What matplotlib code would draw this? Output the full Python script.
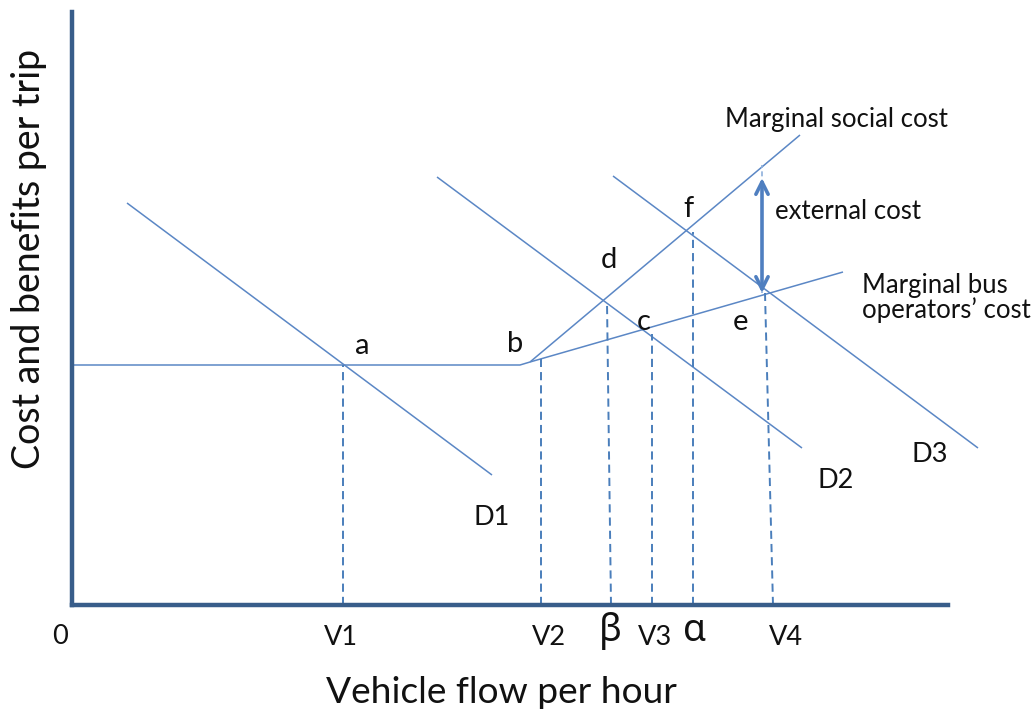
import matplotlib
matplotlib.use("Agg")
import matplotlib.pyplot as plt

# ---------------- data (diagram units: origin at axes corner) ----------------
# supply side
mc_flat_x = [0, 448, 458]
mc_flat_y = [240, 240, 243]
msc_x = [458, 728]            # marginal social cost
msc_y = [243, 470]
mboc_x = [458, 771]           # marginal bus operators' cost
mboc_y = [243, 333]
# demand curves
d1_x = [55, 420];  d1_y = [402, 130]
d2_x = [365, 730]; d2_y = [428, 157]
d3_x = [541, 906]; d3_y = [429, 157]
# dashed guide lines: bottom x, top x, top y
guide_bottom_x = [271, 469, 539, 580, 621, 701]
guide_top_x    = [271, 469, 535, 580, 621, 693]
guide_top_y    = [240, 246, 303, 271, 373, 312]
# external cost arrow
ext_x = 690
ext_low, ext_high = 312, 427
ext_line_top = 440
# point labels
pt_labels = ["a", "b", "c", "d", "e", "f"]
pt_x = [290, 443, 572, 537, 668, 616]
pt_y = [251, 253, 275, 337, 275, 388]
# curve labels
curve_labels = ["D1", "D2", "D3"]
curve_lx = [420, 764, 858]
curve_ly = [80, 117, 143]
# x tick labels
tick_labels = ["V1", "V2", "V3", "V4"]
tick_x = [269, 477, 583, 714]
greek_labels = ["β", "α"]
greek_x = [538, 623]

LINE = "#5b87c5"
DASH = "#4A7EBB"
AXIS = "#385D8A"
TXT = "#111111"
FONT = ["Lato", "DejaVu Sans"]

fig = plt.figure(figsize=(10.34, 7.12), dpi=100)
ax = fig.add_axes([72 / 1034, 107 / 712, 876 / 1034, 593 / 712])
ax.set_xlim(0, 876)
ax.set_ylim(0, 593)
for s in ["top", "right"]:
    ax.spines[s].set_visible(False)
for s in ["left", "bottom"]:
    ax.spines[s].set_color(AXIS)
    ax.spines[s].set_linewidth(3.2)
ax.set_xticks([])
ax.set_yticks([])

kw = dict(color=LINE, lw=1.1, clip_on=False, solid_capstyle="butt")
ax.plot(mc_flat_x, mc_flat_y, **kw)
ax.plot(msc_x, msc_y, **kw)
ax.plot(mboc_x, mboc_y, **kw)
ax.plot(d1_x, d1_y, **kw)
ax.plot(d2_x, d2_y, **kw)
ax.plot(d3_x, d3_y, **kw)

for xb, xt, yt in zip(guide_bottom_x, guide_top_x, guide_top_y):
    ax.plot([xb, xt], [0, yt], color=DASH, lw=1.4, dashes=(4.2, 2.6), clip_on=False)

ax.plot([ext_x, ext_x], [ext_low, ext_line_top], color="#8fb0dc", lw=1.2, dashes=(3, 2))
ax.annotate("", xy=(ext_x, ext_high), xytext=(ext_x, ext_low),
            arrowprops=dict(arrowstyle="<->", lw=2.6, color="#4F7FC0",
                            mutation_scale=22, shrinkA=0, shrinkB=0))

for t, x, y in zip(pt_labels, pt_x, pt_y):
    ax.text(x, y, t, ha="center", va="baseline", fontsize=21, family=FONT, color=TXT)
for t, x, y in zip(curve_labels, curve_lx, curve_ly):
    ax.text(x, y, t, ha="center", va="baseline", fontsize=19.5, family=FONT, color=TXT)

LBL = 18.5
ax.text(653, 478, "Marginal social cost", ha="left", va="baseline", fontsize=LBL, family=FONT, color=TXT)
ax.text(703, 386, "external cost", ha="left", va="baseline", fontsize=LBL, family=FONT, color=TXT)
ax.text(790, 312, "Marginal bus", ha="left", va="baseline", fontsize=LBL, family=FONT, color=TXT)
ax.text(790, 287, "operators\u2019 cost", ha="left", va="baseline", fontsize=LBL, family=FONT, color=TXT)

ax.text(-12, -39, "0", ha="center", va="baseline", fontsize=19.5, family=FONT, color=TXT)
for t, x in zip(tick_labels, tick_x):
    ax.text(x, -40, t, ha="center", va="baseline", fontsize=19.5, family=FONT, color=TXT)
for t, x in zip(greek_labels, greek_x):
    ax.text(x, -36, t, ha="center", va="baseline", fontsize=27, family=["Noto Sans", "DejaVu Sans"], color=TXT)

ax.text(429, -98, "Vehicle flow per hour", ha="center", va="baseline", fontsize=26.7, family=FONT, color=TXT)
ax.text(-32, 346, "Cost and benefits per trip", ha="center", va="baseline", rotation=90,
        rotation_mode="anchor", fontsize=27, family=FONT, color=TXT)

fig.savefig("out.png", dpi=100)
